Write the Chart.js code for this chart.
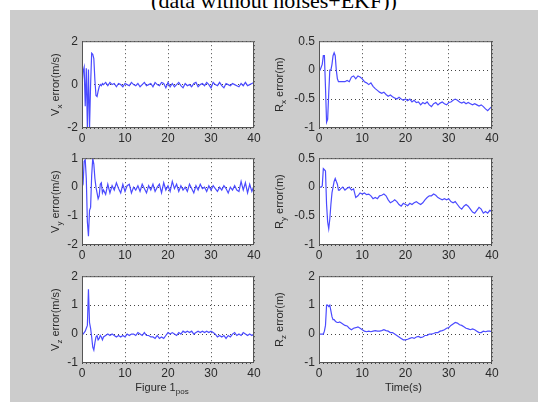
<!DOCTYPE html>
<html>
<head>
<meta charset="utf-8">
<script src="https://cdn.jsdelivr.net/npm/chart.js@4.4.1/dist/chart.umd.min.js"></script>
<style>
  html, body { margin: 0; padding: 0; background: #fff; }
  body { width: 538px; height: 402px; position: relative; overflow: hidden; }
  #title {
    position: absolute; left: 0; width: 548px; top: -10px; text-align: center;
    font: 22px/22px "Liberation Serif", "Times New Roman", serif; color: #000; white-space: nowrap;
  }
  #fig { position: absolute; left: 10px; top: 10px; right: 0; bottom: 0; background: #cccccc; }
  canvas { position: absolute; }
</style>
</head>
<body>
<div id="title">(data without noises+EKF))</div>
<div id="fig"></div>
<canvas id="c0"></canvas>
<canvas id="c1"></canvas>
<canvas id="c2"></canvas>
<canvas id="c3"></canvas>
<canvas id="c4"></canvas>
<canvas id="c5"></canvas>
<script>
// time base (s): 0.25 s steps during the start-up transient, 0.5 s after
const time = [
  0, 0.25, 0.5, 0.75, 1, 1.25, 1.5, 1.75, 2, 2.25, 2.5, 2.75, 3, 3.25, 3.5, 3.75, 4, 4.25, 4.5, 4.75, 5,
  5.5, 6, 6.5, 7, 7.5, 8, 8.5, 9, 9.5, 10,
  10.5, 11, 11.5, 12, 12.5, 13, 13.5, 14, 14.5, 15,
  15.5, 16, 16.5, 17, 17.5, 18, 18.5, 19, 19.5, 20,
  20.5, 21, 21.5, 22, 22.5, 23, 23.5, 24, 24.5, 25,
  25.5, 26, 26.5, 27, 27.5, 28, 28.5, 29, 29.5, 30,
  30.5, 31, 31.5, 32, 32.5, 33, 33.5, 34, 34.5, 35,
  35.5, 36, 36.5, 37, 37.5, 38, 38.5, 39, 39.5, 40
];

const vxErr = [
  0, 0.6, 0.8, -1.0, 0.75, -2.0, 0.7, -2.0, 0.0, 1.45, 1.4, 1.2, 0.2, -0.5, -0.55, -0.3, -0.1, 0.0, -0.05, 0.05, 0.0,
  0.1, -0.05, 0.1, 0.0, 0.05, -0.1, 0.05, 0.0, -0.1, 0.05,
  0.0, -0.05, 0.1, 0.0, -0.05, 0.05, -0.1, 0.0, 0.1, -0.05,
  0.0, 0.05, -0.1, 0.1, 0.0, -0.05, 0.1, 0.05, -0.15, 0.1,
  -0.1, 0.05, -0.1, 0.0, 0.1, -0.05, -0.15, 0.05, -0.05, 0.0,
  -0.1, 0.05, 0.1, -0.1, 0.0, 0.05, -0.05, 0.1, 0.0, -0.15,
  0.1, 0.0, -0.05, 0.1, -0.05, -0.15, 0.05, 0.0, -0.05, 0.05,
  0.0, -0.05, -0.1, 0.05, -0.05, 0.1, -0.05, 0.0, 0.05, 0.1
];

const vyErr = [
  0, 0.1, 0.9, 0.95, 0.3, -1.2, -1.7, -0.8, -0.7, 0.4, 1.0, 0.8, 0.3, 0.0, -0.2, -0.4, -0.3, 0.1, 0.15, -0.2, -0.1,
  -0.25, 0.1, -0.2, 0.05, -0.1, 0.15, -0.05, -0.2, 0.1, -0.15,
  0.05, 0.1, -0.2, 0.0, -0.1, 0.05, -0.15, 0.1, -0.05, -0.2,
  0.05, -0.1, 0.1, -0.15, 0.0, 0.1, -0.2, 0.15, -0.1, 0.05,
  -0.15, 0.2, -0.05, 0.1, -0.15, 0.05, -0.1, 0.0, -0.15, 0.1,
  -0.05, -0.2, 0.05, -0.1, 0.1, -0.05, 0.0, -0.15, 0.05, -0.1,
  0.05, -0.05, -0.15, 0.0, -0.1, 0.05, -0.05, -0.2, 0.0, -0.1,
  0.05, -0.1, -0.15, 0.2, -0.1, 0.15, -0.2, 0.1, -0.15, 0.05
];

const vzErr = [
  0, 0.0, 0.05, 0.1, 0.2, 0.3, 1.55, 0.4, 0.2, -0.1, -0.45, -0.55, -0.3, -0.1, -0.05, -0.2, -0.15, -0.05, -0.1, -0.2, -0.1,
  -0.05, 0.0, -0.05, 0.0, -0.05, -0.1, -0.05, -0.1, -0.05, -0.1,
  0.0, -0.05, 0.0, 0.0, -0.05, 0.05, 0.0, -0.05, 0.05, -0.05,
  -0.05, -0.1, -0.1, -0.15, -0.05, -0.15, -0.1, -0.15, -0.05, 0.05,
  0.0, 0.05, 0.0, -0.05, 0.05, 0.0, 0.1, 0.05, 0.1, 0.05,
  0.1, 0.0, 0.05, 0.1, 0.05, 0.1, 0.05, 0.1, 0.05, 0.1,
  0.05, 0.0, -0.1, -0.05, -0.1, -0.05, -0.15, -0.05, -0.1, 0.0,
  0.05, -0.05, 0.0, -0.05, 0.05, 0.0, -0.05, 0.0, -0.05, 0.0
];

const rxErr = [
  0, 0.0, 0.05, 0.1, 0.25, 0.25, -0.3, -0.9, -0.85, -0.4, 0.0, 0.0, 0.1, 0.25, 0.3, 0.25, 0.0, -0.15, -0.2, -0.2, -0.2,
  -0.2, -0.2, -0.18, -0.2, -0.12, -0.1, -0.15, -0.1, -0.12, -0.15,
  -0.2, -0.22, -0.25, -0.22, -0.28, -0.32, -0.35, -0.38, -0.4, -0.38,
  -0.42, -0.45, -0.43, -0.46, -0.48, -0.5, -0.47, -0.5, -0.52, -0.5,
  -0.53, -0.5, -0.55, -0.52, -0.56, -0.55, -0.6, -0.56, -0.58, -0.55,
  -0.6, -0.63, -0.58, -0.56, -0.6, -0.57, -0.55, -0.58, -0.6, -0.56,
  -0.55, -0.52, -0.5, -0.52, -0.55, -0.57, -0.55, -0.58, -0.56, -0.58,
  -0.6, -0.58, -0.6, -0.62, -0.6, -0.63, -0.67, -0.7, -0.66, -0.63
];

const ryErr = [
  0, 0.0, 0.0, 0.02, 0.32, 0.3, 0.28, -0.3, -0.6, -0.72, -0.55, -0.3, -0.1, 0.0, 0.1, 0.15, 0.1, 0.05, -0.05, -0.05, -0.03,
  0.0, -0.05, -0.02, 0.0, -0.05, -0.03, -0.18, -0.15, -0.1, -0.12,
  -0.1, -0.13, -0.12, -0.15, -0.2, -0.18, -0.2, -0.15, -0.14, -0.12,
  -0.15, -0.22, -0.27, -0.25, -0.22, -0.25, -0.3, -0.33, -0.28, -0.3,
  -0.32, -0.28, -0.3, -0.27, -0.25, -0.28, -0.3, -0.27, -0.22, -0.18,
  -0.15, -0.15, -0.12, -0.14, -0.18, -0.2, -0.22, -0.2, -0.22, -0.2,
  -0.25, -0.27, -0.25, -0.3, -0.35, -0.38, -0.33, -0.3, -0.33, -0.38,
  -0.43, -0.45, -0.4, -0.35, -0.38, -0.45, -0.42, -0.45, -0.4, -0.42
];

const rzErr = [
  0, 0.0, 0.0, 0.0, 0.0, 0.1, 0.3, 1.0, 1.0, 0.95, 1.0, 0.8, 0.6, 0.5, 0.5, 0.45, 0.42, 0.4, 0.4, 0.42, 0.4,
  0.35, 0.3, 0.28, 0.2, 0.15, 0.2, 0.22, 0.25, 0.2, 0.15,
  0.1, 0.08, 0.1, 0.08, 0.1, 0.12, 0.1, 0.1, 0.12, 0.15,
  0.12, 0.1, 0.05, 0.05, 0.0, -0.05, -0.1, -0.15, -0.2, -0.2,
  -0.18, -0.15, -0.12, -0.15, -0.1, -0.08, -0.12, -0.1, -0.05, -0.05,
  0.0, 0.0, 0.02, 0.05, 0.05, 0.1, 0.12, 0.15, 0.2, 0.22,
  0.3, 0.35, 0.4, 0.38, 0.32, 0.3, 0.25, 0.2, 0.18, 0.15,
  0.18, 0.15, 0.1, 0.05, 0.05, 0.1, 0.08, 0.1, 0.1, 0.08
];

// y limits and tick step: [min, max, step]
const velRangeX = [-2, 2, 2];
const velRangeY = [-2, 1, 1];
const velRangeZ = [-1, 2, 1];
const posRange = [-1, 0.5, 0.5];
const posRangeZ = [-1, 2, 1];
const timeTicks = [0, 40, 10];

const FONT = '"Liberation Sans", Arial, sans-serif';
const LINE = 'rgb(75, 75, 255)';
const TEXT = '#2a2a2a';

// extra room around each plot box inside its canvas
const PAD_L = 14, AXIS_W = 36, PAD_T = 10, PAD_R = 12, AXIS_H = 22, PAD_B = 20;

// MATLAB-like tick text: 0.5, 0, -0.5, -1
const tickText = v => String(Math.round(v * 100) / 100);

// draw "V" + subscript "x" + " error(m/s)" style labels
function drawParts(ctx, parts, size) {
  const subSize = Math.round(size * 0.75);
  let total = 0;
  parts.forEach(p => {
    ctx.font = (p.sub ? subSize : size) + 'px ' + FONT;
    p.w = ctx.measureText(p.text).width;
    total += p.w;
  });
  let x = -total / 2;
  parts.forEach(p => {
    ctx.font = (p.sub ? subSize : size) + 'px ' + FONT;
    ctx.fillText(p.text, x, p.sub ? 4 : 0);
    x += p.w;
  });
}

const matlabAxes = {
  id: 'matlabAxes',
  beforeDraw(chart) {
    const { ctx, chartArea: a } = chart;
    ctx.save();
    ctx.fillStyle = '#fff';
    ctx.fillRect(a.left, a.top, a.right - a.left, a.bottom - a.top);
    ctx.restore();
  },
  afterDraw(chart, args, opts) {
    const { ctx, chartArea: a } = chart;
    ctx.save();
    ctx.strokeStyle = '#555';
    ctx.lineWidth = 1;
    ctx.strokeRect(a.left + 0.5, a.top + 0.5, a.right - a.left - 1, a.bottom - a.top - 1);
    ctx.fillStyle = TEXT;
    ctx.textAlign = 'left';
    ctx.textBaseline = 'middle';
    if (opts.ylabel) {
      ctx.save();
      ctx.translate(a.left - opts.yoff, (a.top + a.bottom) / 2);
      ctx.rotate(-Math.PI / 2);
      drawParts(ctx, opts.ylabel, 11);
      ctx.restore();
    }
    if (opts.xlabel) {
      ctx.save();
      ctx.translate((a.left + a.right) / 2 + (opts.xshift || 0), a.bottom + 25);
      drawParts(ctx, opts.xlabel, 11);
      ctx.restore();
    }
    ctx.restore();
  }
};

function makePlot(id, box, values, range, ylabel, yoff, xlabel, xshift) {
  const canvas = document.getElementById(id);
  const w = PAD_L + AXIS_W + box.w + PAD_R;
  const h = PAD_T + box.h + AXIS_H + PAD_B;
  canvas.width = w;
  canvas.height = h;
  canvas.style.left = (box.x - PAD_L - AXIS_W) + 'px';
  canvas.style.top = (box.y - PAD_T) + 'px';
  canvas.style.width = w + 'px';
  canvas.style.height = h + 'px';

  new Chart(canvas, {
    type: 'line',
    data: {
      datasets: [{
        data: time.map((t, i) => ({ x: t, y: values[i] })),
        borderColor: LINE,
        borderWidth: 1.2,
        pointRadius: 0,
        tension: 0,
        fill: false
      }]
    },
    options: {
      responsive: false,
      animation: false,
      devicePixelRatio: 1,
      layout: { padding: { left: PAD_L, top: PAD_T, right: PAD_R, bottom: PAD_B } },
      plugins: {
        legend: { display: false },
        tooltip: { enabled: false },
        matlabAxes: { ylabel, yoff, xlabel, xshift }
      },
      scales: {
        x: {
          type: 'linear',
          min: timeTicks[0], max: timeTicks[1],
          afterFit: s => { s.height = AXIS_H; },
          ticks: { stepSize: timeTicks[2], autoSkip: false, maxRotation: 0, padding: 3,
                   color: TEXT, font: { family: FONT, size: 12 }, callback: tickText },
          grid: { color: '#444', lineWidth: 1, drawTicks: false },
          border: { display: false, dash: [1, 3] }
        },
        y: {
          min: range[0], max: range[1],
          afterFit: s => { s.width = AXIS_W; },
          ticks: { stepSize: range[2], autoSkip: false, padding: 4,
                   color: TEXT, font: { family: FONT, size: 12 }, callback: tickText },
          grid: { color: '#444', lineWidth: 1, drawTicks: false },
          border: { display: false, dash: [1, 3] }
        }
      }
    },
    plugins: [matlabAxes]
  });
}

const leftX = 82, rightX = 319, plotW = 172, plotH = 88;
const rowY = [40, 157, 275];

makePlot('c0', { x: leftX, y: rowY[0], w: plotW, h: plotH }, vxErr, velRangeX,
  [{ text: 'V' }, { text: 'x', sub: true }, { text: ' error(m/s)' }], 26);
makePlot('c1', { x: rightX, y: rowY[0], w: plotW + 1, h: plotH }, rxErr, posRange,
  [{ text: 'R' }, { text: 'x', sub: true }, { text: ' error(m)' }], 39);
makePlot('c2', { x: leftX, y: rowY[1], w: plotW, h: plotH }, vyErr, velRangeY,
  [{ text: 'V' }, { text: 'y', sub: true }, { text: ' error(m/s)' }], 26);
makePlot('c3', { x: rightX, y: rowY[1], w: plotW + 1, h: plotH }, ryErr, posRange,
  [{ text: 'R' }, { text: 'y', sub: true }, { text: ' error(m)' }], 39);
makePlot('c4', { x: leftX, y: rowY[2], w: plotW, h: plotH }, vzErr, velRangeZ,
  [{ text: 'V' }, { text: 'z', sub: true }, { text: ' error(m/s)' }], 26,
  [{ text: 'Figure 1' }, { text: 'pos', sub: true }], -6);
makePlot('c5', { x: rightX, y: rowY[2], w: plotW + 1, h: plotH }, rzErr, posRangeZ,
  [{ text: 'R' }, { text: 'z', sub: true }, { text: ' error(m)' }], 39,
  [{ text: 'Time(s)' }], -2);
</script>
</body>
</html>
